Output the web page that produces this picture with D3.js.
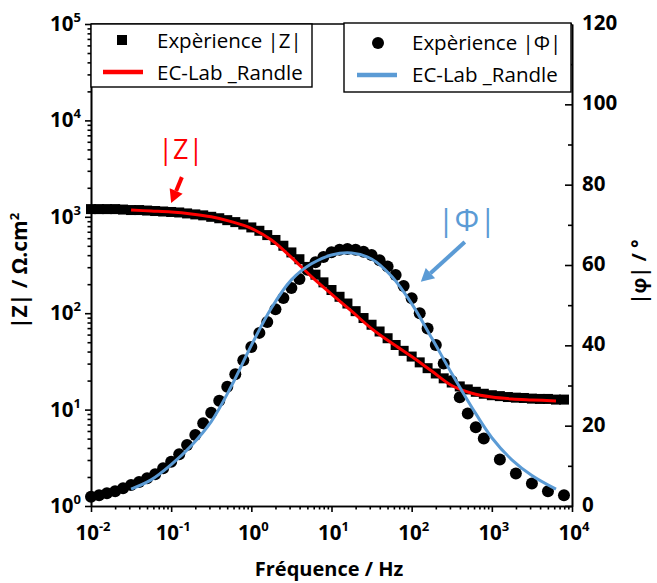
<!doctype html>
<html lang=en>
<head>
<meta charset=utf-8>
<title>Bode EIS</title>
<style>
  body { margin: 0; background: #fff; }
  svg { display: block; }
  text { font-family: "Open Sans", Lato, sans-serif; }
</style>
</head>
<body>
<svg></svg>
<script src="https://d3js.org/d3.v7.min.js"></script>
<script>
var width = 657, height = 583;

// experimental |Z| (ohm.cm2) vs frequency (Hz)
var freq = [0.01, 0.0126, 0.0158, 0.02, 0.0251, 0.0316, 0.0398, 0.0501, 0.0631, 0.0794,
  0.1, 0.126, 0.158, 0.2, 0.251, 0.316, 0.398, 0.501, 0.631, 0.794,
  1, 1.26, 1.58, 2, 2.51, 3.16, 3.98, 5.01, 6.31, 7.94,
  10, 12.6, 15.8, 20, 25.1, 31.6, 39.8, 50.1, 63.1, 79.4,
  100, 126, 158, 200, 251, 316, 398, 501, 631, 794,
  1000, 1259, 1585, 1995, 2512, 3162, 3981, 5012, 6310, 7943];
var zExp = [1202, 1202, 1202, 1202, 1189, 1175, 1175, 1161, 1148, 1135,
  1122, 1109, 1084, 1059, 1035, 1000, 966, 923, 881, 832,
  776, 716, 646, 575, 501, 427, 363, 302, 251, 209,
  174, 148, 126, 105, 89.1, 75.9, 64.6, 55.0, 46.8, 40.7,
  35.5, 30.9, 26.9, 23.7, 21.1, 19.1, 17.4, 16.2, 15.3, 14.6,
  14.1, 13.8, 13.5, 13.3, 13.2, 13.0, 12.9, 12.9, 12.7, 12.7];

// experimental |phase| (deg)
var phaseFreq = [0.01, 0.0126, 0.0158, 0.02, 0.0251, 0.0316, 0.0398, 0.0501, 0.0631, 0.0794,
  0.1, 0.126, 0.158, 0.2, 0.251, 0.316, 0.398, 0.501, 0.631, 0.794,
  1, 1.26, 1.58, 2, 2.51, 3.16, 3.98, 5.01, 6.31, 7.94,
  10, 12.6, 15.8, 20, 25.1, 31.6, 39.8, 50.1, 63.1, 79.4,
  100, 126, 158, 200, 251, 316, 398, 501, 631, 794,
  1259, 1995, 3162, 5012, 7943];
var phaseExp = [2.3, 2.7, 3.2, 3.7, 4.4, 5.2, 6.0, 6.9, 7.9, 9.4,
  11.0, 12.9, 15.2, 17.7, 20.6, 23.2, 26.2, 29.7, 32.8, 36.3,
  39.6, 43.1, 45.8, 49.0, 51.8, 54.3, 56.5, 58.8, 60.7, 62.0,
  63.2, 63.8, 64.0, 63.8, 63.3, 62.5, 61.2, 59.6, 57.5, 54.8,
  51.7, 48.0, 44.2, 40.1, 35.5, 31.1, 27.1, 23.0, 19.6, 16.8,
  11.6, 8.1, 5.6, 3.7, 2.7];

// EC-Lab Randle fit
var fitFreq = [0.0316, 0.0562, 0.1, 0.178, 0.316, 0.562, 1, 1.78, 3.16, 5.62,
  10, 17.8, 31.6, 56.2, 100, 178, 316, 562, 1000, 1778, 3162, 6310];
var zFit = [1175, 1148, 1122, 1072, 1000, 891, 759, 575, 380, 240,
  158, 105, 69.2, 49.0, 35.5, 25.1, 17.8, 14.8, 13.5, 12.9, 12.6, 12.3];
var phaseFit = [4.2, 6.5, 10.3, 15.0, 21.0, 29.8, 40.0, 49.3, 56.3, 60.3,
  62.5, 63.0, 61.5, 57.2, 50.4, 41.8, 33.0, 24.6, 17.0, 11.5, 7.6, 4.2];

var freqTicks = [0.01, 0.1, 1, 10, 100, 1000, 10000];
var freqTickExp = ["-2", "-1", "0", "1", "2", "3", "4"];
var zTicks = [1, 10, 100, 1000, 10000, 100000];
var zTickExp = ["0", "1", "2", "3", "4", "5"];
var phaseTicks = [0, 20, 40, 60, 80, 100, 120];
var phaseMinor = [10, 30, 50, 70, 90, 110];

var red = "#ff0000", blue = "#5b9bd5";

var svg = d3.select("svg").attr("width", width).attr("height", height);

var x = d3.scaleLog().domain([0.01, 10000]).range([91, 572]);
var yZ = d3.scaleLog().domain([1, 100000]).range([506, 24]);
var yP = d3.scaleLinear().domain([0, 120]).range([506, 24]);

function minors(lo, hi) {
  var out = [];
  for (var d = lo; d < hi; d *= 10)
    for (var k = 2; k <= 9; k++) out.push(d * k);
  return out;
}

// axes
function styleAxis(g) {
  g.selectAll("path,line").attr("stroke", "#000").attr("stroke-width", 1.6);
}
svg.append("g").attr("transform", "translate(0,506)")
  .call(d3.axisBottom(x).tickValues(freqTicks).tickFormat("").tickSize(6).tickSizeOuter(0)).call(styleAxis);
svg.append("g").attr("transform", "translate(0,506)")
  .call(d3.axisBottom(x).tickValues(minors(0.01, 10000)).tickFormat("").tickSize(3.5).tickSizeOuter(0)).call(styleAxis);
svg.append("g").attr("transform", "translate(91,0)")
  .call(d3.axisLeft(yZ).tickValues(zTicks).tickFormat("").tickSize(6).tickSizeOuter(0)).call(styleAxis);
svg.append("g").attr("transform", "translate(91,0)")
  .call(d3.axisLeft(yZ).tickValues(minors(1, 100000)).tickFormat("").tickSize(3.5).tickSizeOuter(0)).call(styleAxis);
svg.append("g").attr("transform", "translate(572,0)")
  .call(d3.axisRight(yP).tickValues(phaseTicks).tickFormat("").tickSize(-7).tickSizeOuter(0)).call(styleAxis);
svg.append("g").attr("transform", "translate(572,0)")
  .call(d3.axisRight(yP).tickValues(phaseMinor).tickFormat("").tickSize(-4).tickSizeOuter(0)).call(styleAxis);
svg.append("line").attr("x1", 91).attr("x2", 572).attr("y1", 24).attr("y2", 24)
  .attr("stroke", "#000").attr("stroke-width", 1.6);

// tick labels
var xl = svg.append("g").attr("font-weight", "bold").attr("font-size", 20.5).attr("text-anchor", "middle");
freqTicks.forEach(function (d, i) {
  var t = xl.append("text").attr("x", x(d) + 2).attr("y", 540);
  t.append("tspan").text("10");
  t.append("tspan").attr("dy", -9).attr("font-size", 13).text(freqTickExp[i]);
});
var yl = svg.append("g").attr("font-weight", "bold").attr("font-size", 20.5).attr("text-anchor", "end");
zTicks.forEach(function (d, i) {
  var t = yl.append("text").attr("x", 81).attr("y", yZ(d) + 7);
  t.append("tspan").text("10");
  t.append("tspan").attr("dy", -9).attr("font-size", 13).text(zTickExp[i]);
});
svg.append("g").attr("font-weight", "bold").attr("font-size", 20.5)
  .selectAll("text").data(phaseTicks).join("text")
  .attr("x", 582).attr("y", function (d) { return yP(d) + 6; })
  .text(function (d) { return d; });

// axis titles
svg.append("text").attr("x", 329).attr("y", 576).attr("text-anchor", "middle")
  .attr("font-weight", "bold").attr("font-size", 20).text("Fréquence / Hz");
var lt = svg.append("text").attr("transform", "translate(27,271) rotate(-90)").attr("text-anchor", "middle")
  .attr("font-weight", "bold").attr("font-size", 21);
lt.append("tspan").text("|Z| / Ω.cm");
lt.append("tspan").attr("dy", -8).attr("font-size", 13).text("2");
svg.append("text").attr("transform", "translate(646,272) rotate(-90)").attr("text-anchor", "middle")
  .attr("font-weight", "bold").attr("font-size", 20).text("|φ| / °");

// experimental markers
svg.append("g").selectAll("rect").data(freq).join("rect")
  .attr("x", function (d) { return x(d) - 5; })
  .attr("y", function (d, i) { return yZ(zExp[i]) - 5; })
  .attr("width", 10).attr("height", 10).attr("fill", "#000");
svg.append("g").selectAll("circle").data(phaseFreq).join("circle")
  .attr("cx", function (d) { return x(d); })
  .attr("cy", function (d, i) { return yP(phaseExp[i]); })
  .attr("r", 6).attr("fill", "#000");

// fit lines
var zLine = d3.line().x(function (d) { return x(d); })
  .y(function (d, i) { return yZ(zFit[i]); }).curve(d3.curveCatmullRom);
var pLine = d3.line().x(function (d) { return x(d); })
  .y(function (d, i) { return yP(phaseFit[i]); }).curve(d3.curveCatmullRom);
svg.append("path").datum(fitFreq).attr("d", zLine).attr("fill", "none")
  .attr("stroke", red).attr("stroke-width", 3);
svg.append("path").datum(fitFreq).attr("d", pLine).attr("fill", "none")
  .attr("stroke", blue).attr("stroke-width", 3);

// legends
function legendBox(x0, y0, w, h) {
  svg.append("rect").attr("x", x0).attr("y", y0).attr("width", w).attr("height", h)
    .attr("fill", "#fff").attr("stroke", "#000").attr("stroke-width", 1.4);
}
legendBox(91, 24, 221, 63);
legendBox(344, 23, 227, 69);
var lg = svg.append("g").attr("font-size", 20.5);
lg.append("rect").attr("x", 117).attr("y", 35).attr("width", 10).attr("height", 10).attr("fill", "#000");
lg.append("text").attr("x", 157).attr("y", 48).text("Expèrience |Z|");
lg.append("line").attr("x1", 103).attr("x2", 143).attr("y1", 72).attr("y2", 72)
  .attr("stroke", red).attr("stroke-width", 4.5);
lg.append("text").attr("x", 157).attr("y", 80).text("EC-Lab _Randle");
lg.append("circle").attr("cx", 378).attr("cy", 43).attr("r", 6).attr("fill", "#000");
lg.append("text").attr("x", 412).attr("y", 50).text("Expèrience |Φ|");
lg.append("line").attr("x1", 357).attr("x2", 397).attr("y1", 75).attr("y2", 75)
  .attr("stroke", blue).attr("stroke-width", 4.5);
lg.append("text").attr("x", 412).attr("y", 82).text("EC-Lab _Randle");

// annotations
function arrow(x1, y1, x2, y2, color) {
  var a = Math.atan2(y2 - y1, x2 - x1), L = 13, W = 7;
  var bx = x2 - L * Math.cos(a), by = y2 - L * Math.sin(a);
  svg.append("line").attr("x1", x1).attr("y1", y1).attr("x2", bx).attr("y2", by)
    .attr("stroke", color).attr("stroke-width", 4);
  svg.append("path").attr("fill", color)
    .attr("d", "M" + x2 + "," + y2 +
      "L" + (bx - W * Math.sin(a)) + "," + (by + W * Math.cos(a)) +
      "L" + (bx + W * Math.sin(a)) + "," + (by - W * Math.cos(a)) + "Z");
}
svg.append("text").attr("x", x(0.132)).attr("y", yZ(3980)).attr("text-anchor", "middle")
  .attr("font-size", 27).attr("fill", red).text("|Z|");
arrow(x(0.136), yZ(2580), x(0.1), yZ(1390), red);
svg.append("text").attr("x", x(488)).attr("y", yP(68.5)).attr("text-anchor", "middle")
  .attr("font-size", 31).attr("fill", blue).text("|Φ|");
arrow(x(460), yP(65.7), x(130), yP(55.8), blue);
</script>
</body>
</html>
